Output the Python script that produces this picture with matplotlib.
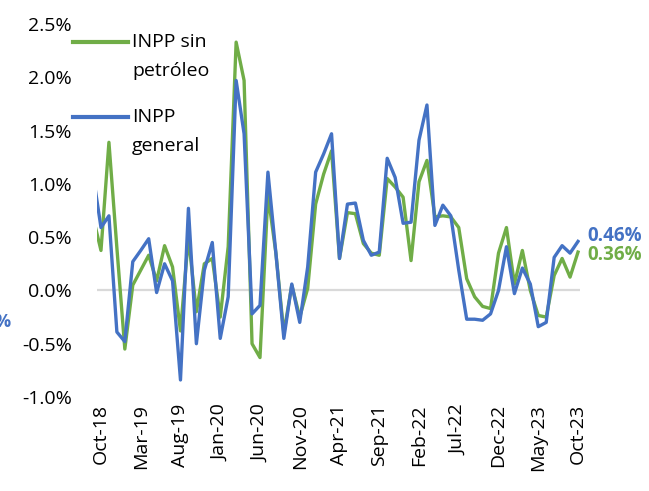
import matplotlib
matplotlib.use('Agg')
import matplotlib.pyplot as plt
from matplotlib.lines import Line2D
from matplotlib.ticker import FuncFormatter

plt.rcParams['font.family'] = ['Open Sans', 'DejaVu Sans']

# Monthly series, Sep-18 .. Oct-23 (Sep-18 is only partly visible at the left edge)
months = list(range(-1, 61))
sin_petroleo = [0.69, 0.375, 1.39, 0.40, -0.55, 0.05, 0.19, 0.33, 0.09, 0.42,
                0.22, -0.38, 0.50, -0.20, 0.25, 0.30, -0.25, 0.41, 2.33, 1.97,
                -0.50, -0.63, 0.90, 0.35, -0.40, 0.05, -0.25, 0.02, 0.81, 1.09,
                1.31, 0.30, 0.73, 0.72, 0.44, 0.35, 0.33, 1.05, 0.97, 0.875,
                0.28, 1.02, 1.22, 0.69, 0.70, 0.69, 0.59, 0.11, -0.06, -0.15,
                -0.17, 0.35, 0.59, 0.06, 0.375, 0.0, -0.235, -0.25, 0.14, 0.30,
                0.125, 0.36]
general = [1.09, 0.59, 0.70, -0.39, -0.48, 0.27, 0.375, 0.485, -0.02, 0.25,
           0.09, -0.84, 0.77, -0.50, 0.19, 0.45, -0.45, -0.06, 1.97, 1.47,
           -0.22, -0.14, 1.11, 0.35, -0.45, 0.06, -0.30, 0.22, 1.11, 1.28,
           1.47, 0.30, 0.81, 0.82, 0.47, 0.33, 0.36, 1.24, 1.06, 0.63,
           0.64, 1.41, 1.74, 0.61, 0.80, 0.70, 0.19, -0.27, -0.27, -0.28,
           -0.22, 0.0, 0.41, -0.03, 0.21, 0.06, -0.34, -0.30, 0.31, 0.42,
           0.35, 0.46]

tick_pos = [0, 5, 10, 15, 20, 25, 30, 35, 40, 45, 50, 55, 60]
tick_labels = ['Oct-18', 'Mar-19', 'Aug-19', 'Jan-20', 'Jun-20', 'Nov-20', 'Apr-21',
               'Sep-21', 'Feb-22', 'Jul-22', 'Dec-22', 'May-23', 'Oct-23']

green = '#70AD47'
blue = '#4472C4'

fig = plt.figure(figsize=(6.49, 4.91), dpi=100)
ax = fig.add_axes([97 / 649, 1 - 397 / 491, 483 / 649, 373 / 491])

ax.axhline(0, color='#D9D9D9', lw=1.6, zorder=1)
ax.plot(months, sin_petroleo, color=green, lw=2.4, zorder=2)
ax.plot(months, general, color=blue, lw=2.4, zorder=3)

ax.set_xlim(-0.5, 60.25)
ax.set_ylim(-1.0, 2.5)
ax.set_yticks([-1.0, -0.5, 0.0, 0.5, 1.0, 1.5, 2.0, 2.5])
ax.yaxis.set_major_formatter(FuncFormatter(lambda v, p: f'{v:.1f}%'))
ax.set_xticks(tick_pos)
ax.set_xticklabels(tick_labels, rotation=90)
ax.tick_params(axis='both', length=0, labelsize=14, colors='black')
ax.tick_params(axis='y', pad=18)
ax.tick_params(axis='x', pad=5)
for s in ax.spines.values():
    s.set_visible(False)

# end labels
ax.annotate(f'{general[-1]:.2f}%', xy=(months[-1], general[-1]), xytext=(7, 4),
            textcoords='offset points', color=blue, fontsize=13.5, fontweight='bold',
            va='center', annotation_clip=False)
ax.annotate(f'{sin_petroleo[-1]:.2f}%', xy=(months[-1], sin_petroleo[-1]), xytext=(7, -2),
            textcoords='offset points', color=green, fontsize=13.5, fontweight='bold',
            va='center', annotation_clip=False)

# label cut off at the left border, as in the source image
fig.text(11 / 649, 1 - 322 / 491, '%', color=blue, fontsize=13, fontweight='bold',
         ha='right', va='center')

# legend drawn by hand (line aligned with first text row)
fig.add_artist(Line2D([73 / 649, 128 / 649], [1 - 42 / 491] * 2, color=green, lw=3))
fig.add_artist(Line2D([73 / 649, 128 / 649], [1 - 117 / 491] * 2, color=blue, lw=3))
fig.text(132 / 649, 1 - 42 / 491, 'INPP sin', fontsize=14, va='center')
fig.text(132 / 649, 1 - 71 / 491, 'petróleo', fontsize=14, va='center')
fig.text(132 / 649, 1 - 117 / 491, 'INPP', fontsize=14, va='center')
fig.text(132 / 649, 1 - 146 / 491, 'general', fontsize=14, va='center')

fig.savefig('out.png', dpi=100)
